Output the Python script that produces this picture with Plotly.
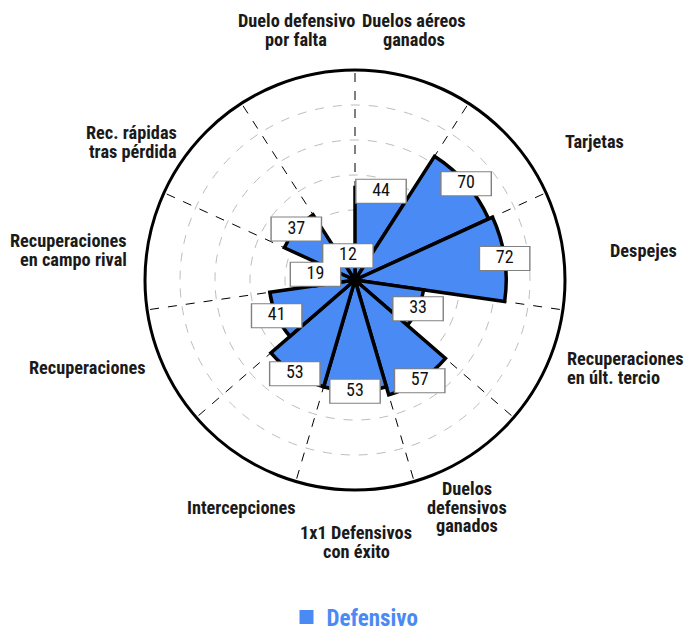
import plotly.graph_objects as go

categories = [
    "Duelos aéreos<br>ganados",
    "Tarjetas",
    "Despejes",
    "Recuperaciones<br>en últ. tercio",
    "Duelos<br>defensivos<br>ganados",
    "1x1 Defensivos<br>con éxito",
    "Intercepciones",
    "Recuperaciones",
    "Recuperaciones<br>en campo rival",
    "Rec. rápidas<br>tras pérdida",
    "Duelo defensivo<br>por falta",
]
values = [44, 70, 72, 33, 57, 53, 53, 41, 19, 37, 12]
series_name = "Defensivo"
radial_grid = [16.67, 33.33, 50, 66.67, 83.33]
radial_max = 100

# ---- layout / style ----
W, H = 699, 629
PAGE_OFF = 8  # page body margin offset (figure is drawn 8px in from the window corner)
ML, MR, MT, MB = 132, 137, 62, 147
BLUE = "#4a8af4"
FONT = "Roboto Condensed, Liberation Sans Narrow, Roboto, sans-serif"
LABEL_SIZE = 18.3
LINE_H = 18.5

# category label placement (window pixel anchor, xanchor/align) around the circle
label_layout = [
    (414, 30, "center"),
    (563, 142, "left"),
    (608, 250, "left"),
    (565, 368, "left"),
    (467, 507, "center"),
    (356, 542, "center"),
    (298, 507, "right"),
    (148, 368, "right"),
    (129, 250, "right"),
    (179, 142, "right"),
    (296, 30, "center"),
]
legend_center_y = 617

n = len(categories)
step = 360 / n
centers = [step * (i + 0.5) for i in range(n)]
bounds = [step * i for i in range(n)]

fig = go.Figure()

# bars
fig.add_trace(go.Barpolar(
    r=values, theta=centers, width=[step] * n,
    marker=dict(color=BLUE, line=dict(color="black", width=3.5)),
    name=series_name, showlegend=False, hoverinfo="skip",
))

# value label boxes (border + fill) and text
fig.add_trace(go.Scatterpolar(
    r=values, theta=centers, mode="markers",
    marker=dict(symbol="line-ew", size=37, color="#808080",
                line=dict(color="#808080", width=25)),
    showlegend=False, hoverinfo="skip",
))
fig.add_trace(go.Scatterpolar(
    r=values, theta=centers, mode="markers+text",
    marker=dict(symbol="line-ew", size=35, color="white",
                line=dict(color="white", width=23)),
    text=[str(v) for v in values], textposition="middle center",
    textfont=dict(family=FONT, size=18, color="#111111"),
    showlegend=False, hoverinfo="skip",
))

# legend entry
fig.add_trace(go.Scatterpolar(
    r=[None], theta=[None], mode="markers",
    marker=dict(symbol="square", size=16, color=BLUE, line=dict(color=BLUE, width=2)),
    name=series_name, showlegend=True,
))

pw, ph = W - ML - MR, H - MT - MB


def to_paper(px, py):
    return (px - PAGE_OFF - ML) / pw, (H - MB - (py - PAGE_OFF)) / ph


annotations = []
for text, (px, py, anc) in zip(categories, label_layout):
    lines = text.split("<br>")
    m = len(lines)
    for k, line in enumerate(lines):
        x, y = to_paper(px, py + (k - (m - 1) / 2) * LINE_H)
        annotations.append(dict(
            text="<b>%s</b>" % line, xref="paper", yref="paper", x=x, y=y,
            xanchor=anc, yanchor="middle", align=anc, showarrow=False,
            font=dict(family=FONT, size=LABEL_SIZE, color="#1a1a1a"),
        ))

fig.update_layout(
    width=W, height=H,
    margin=dict(l=ML, r=MR, t=MT, b=MB, autoexpand=False),
    paper_bgcolor="white",
    polar=dict(
        bgcolor="white",
        radialaxis=dict(range=[0, radial_max], tickvals=radial_grid, showticklabels=False,
                        ticks="", showline=False, gridcolor="#bdbdbd", griddash="dash",
                        gridwidth=1),
        angularaxis=dict(direction="clockwise", rotation=90, thetaunit="degrees",
                         type="linear", tickmode="array", tickvals=bounds,
                         showticklabels=False, ticks="",
                         showgrid=True, gridcolor="black", griddash="dash", gridwidth=1.3,
                         showline=True, linecolor="black", linewidth=3),
    ),
    annotations=annotations,
    showlegend=True,
    legend=dict(orientation="h", x=0.5, xanchor="center",
                y=to_paper(0, legend_center_y)[1], yanchor="middle",
                font=dict(family=FONT, size=23, color=BLUE, weight="bold"),
                itemsizing="constant", borderwidth=0),
)

fig.write_html("out.html")
